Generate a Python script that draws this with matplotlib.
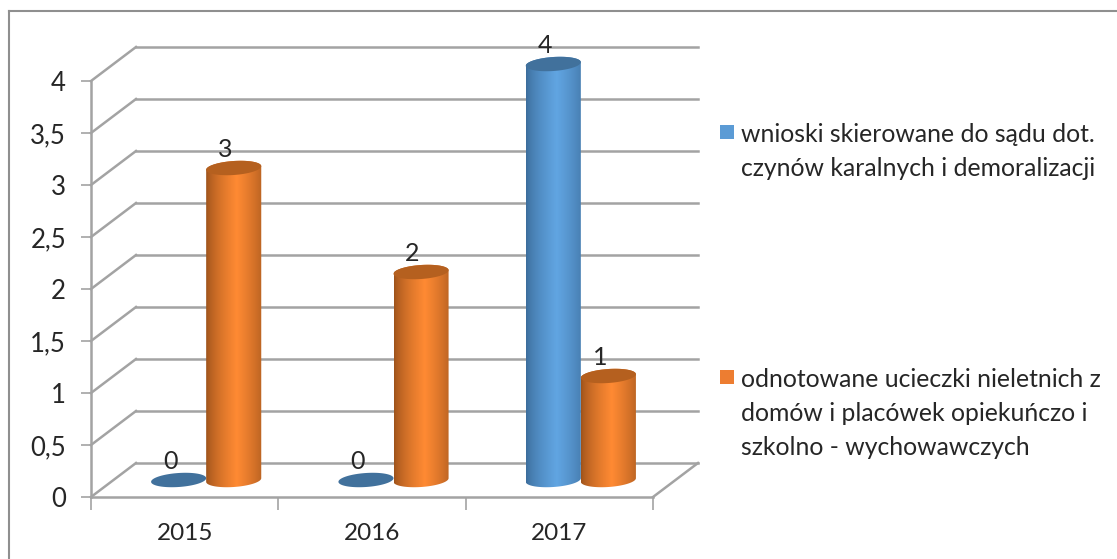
import numpy as np
import matplotlib
matplotlib.use("Agg")
import matplotlib.pyplot as plt
from matplotlib.lines import Line2D
from matplotlib.patches import Polygon, Rectangle
from matplotlib.ticker import FuncFormatter, MultipleLocator
from matplotlib.transforms import Affine2D

years = ["2015", "2016", "2017"]
wnioski = [0, 0, 4]
ucieczki = [3, 2, 1]
label_wnioski = "wnioski skierowane do sądu dot.\nczynów karalnych i demoralizacji"
label_ucieczki = "odnotowane ucieczki nieletnich z\ndomów i placówek opiekuńczo i\nszkolno - wychowawczych"

W, H = 1117, 559
plt.rcParams["font.family"] = ["Lato", "DejaVu Sans"]
TXT = "#262626"
GRID = "#a3a3a3"

fig = plt.figure(figsize=(W / 100, H / 100), dpi=100, facecolor="white")
L, R, T, B = 91, 653, 81, 497
ax = fig.add_axes([L / W, 1 - B / H, (R - L) / W, (B - T) / H])
ax.set_xlim(0, 3)
ax.set_ylim(0, 4)
ax.patch.set_visible(False)

# picture frame: only the top and left edges are visible
for xs, ys in (((8.5, W), (10.5, 10.5)), ((8.5, 8.5), (10.5, H))):
    fig.add_artist(Line2D([v / W for v in xs], [1 - v / H for v in ys], transform=fig.transFigure,
                          color="#8f8f8f", lw=1.5))

DX, DY = 45, 34
back = ax.transData + Affine2D().translate(DX, DY)
mid = ax.transData + Affine2D().translate(DX / 2 - 1, DY / 2)

# axes
for s in ("top", "right"):
    ax.spines[s].set_visible(False)
for s in ("left", "bottom"):
    ax.spines[s].set_color(GRID)
    ax.spines[s].set_linewidth(1.8)
ax.yaxis.set_major_locator(MultipleLocator(0.5))
ax.yaxis.set_major_formatter(FuncFormatter(lambda v, _: f"{v:g}".replace(".", ",")))
ax.set_xticks(range(len(years) + 1))
ax.set_xticklabels([])
ax.set_xticks(np.arange(len(years)) + 0.5, years, minor=True)
ax.tick_params(axis="x", which="major", length=9, width=1.2, color=GRID)
ax.tick_params(axis="x", which="minor", length=0, pad=18.5, labelsize=17.5, labelcolor=TXT)
ax.tick_params(axis="y", length=7, width=1.2, color=GRID, pad=11, labelsize=18.5, labelcolor=TXT)

# walls
ticks = np.arange(0, 4.01, 0.5)
for v in ticks:
    ax.plot([0, 3], [v, v], transform=back, color=GRID, lw=1.8, clip_on=False, zorder=1)
    x0, y0 = ax.transData.transform((0, v))
    ax.plot([x0, x0 + DX], [y0, y0 + DY], transform=None, color=GRID, lw=1.8, clip_on=False, zorder=1)
x3, y3 = ax.transData.transform((3, 0))
ax.plot([x3, x3 + DX], [y3, y3 + DY], transform=None, color=GRID, lw=1.8, clip_on=False, zorder=1)

# cylinders
HALF = 0.147
A = HALF * (R - L) / 3
SHEAR = 1.8
BY = 7.0


def cyl_pts(cx, cy, t):
    px, py = mid.transform((cx, cy))
    return np.column_stack([px + A * np.cos(t), py + SHEAR * np.cos(t) + BY * np.sin(t)])


def cylinder(cx, value, edge, light, top, z):
    if value == 0:
        t = np.linspace(0, 2 * np.pi, 160)
        ax.add_patch(Polygon(cyl_pts(cx, 0, t), closed=True, transform=None, fc=top, ec="none",
                             clip_on=False, zorder=z))
        return
    tb = np.linspace(np.pi, 2 * np.pi, 80)
    tt = np.linspace(0, np.pi, 80)
    outline = np.vstack([cyl_pts(cx, 0, tb), cyl_pts(cx, value, tt)])
    body = Polygon(outline, closed=True, transform=None, fc="none", ec="none")
    ax.add_patch(body)
    body.set_clip_on(False)
    u = np.linspace(0, 1, 256)
    w = np.clip(1 - np.abs(u - 0.55) / 0.55, 0, 1) ** 0.65
    e, l = np.array(matplotlib.colors.to_rgb(edge)), np.array(matplotlib.colors.to_rgb(light))
    grad = (e[None, :] * (1 - w[:, None]) + l[None, :] * w[:, None])[None, :, :]
    xlim, ylim = ax.get_xlim(), ax.get_ylim()
    im = ax.imshow(grad, extent=(cx - HALF, cx + HALF, -0.2, value + 0.2), aspect="auto",
                   transform=mid, zorder=z, interpolation="bilinear")
    im.set_clip_box(fig.bbox)
    im.set_clip_path(body)
    ax.set_xlim(xlim)
    ax.set_ylim(ylim)
    t = np.linspace(0, 2 * np.pi, 160)
    ax.add_patch(Polygon(cyl_pts(cx, value, t), closed=True, transform=None, fc=top, ec="none",
                         clip_on=False, zorder=z + 0.1))


x = np.arange(len(years)) + 0.5
for i in range(len(years)):
    zb = 3 + i
    xb, xo = x[i] - HALF, x[i] + HALF
    cylinder(xb, wnioski[i], "#3a6a98", "#61a5e2", "#41719c", zb)
    cylinder(xo, ucieczki[i], "#99501a", "#ff8a33", "#b5601f", zb + 0.3)
    for cx, v in ((xb, wnioski[i]), (xo, ucieczki[i])):
        px, py = mid.transform((cx, v))
        ax.text(px - 8.5, py + 18.5, str(v), transform=None, ha="center", va="center",
                fontsize=18, color=TXT, zorder=9, clip_on=False)

# legend
fs = 17.8
for colr, lab, ys, yt in (("#5b9bd5", label_wnioski, 132, 123),
                          ("#ed7d31", label_ucieczki, 377, 368)):
    fig.add_artist(Rectangle((720 / W, 1 - (ys + 7) / H), 14 / W, 14 / H, transform=fig.transFigure,
                             fc=colr, ec="none"))
    fig.text(741 / W, 1 - yt / H, lab, fontsize=fs, color=TXT, ha="left", va="top", linespacing=1.58)

fig.savefig("out.png", dpi=100)
